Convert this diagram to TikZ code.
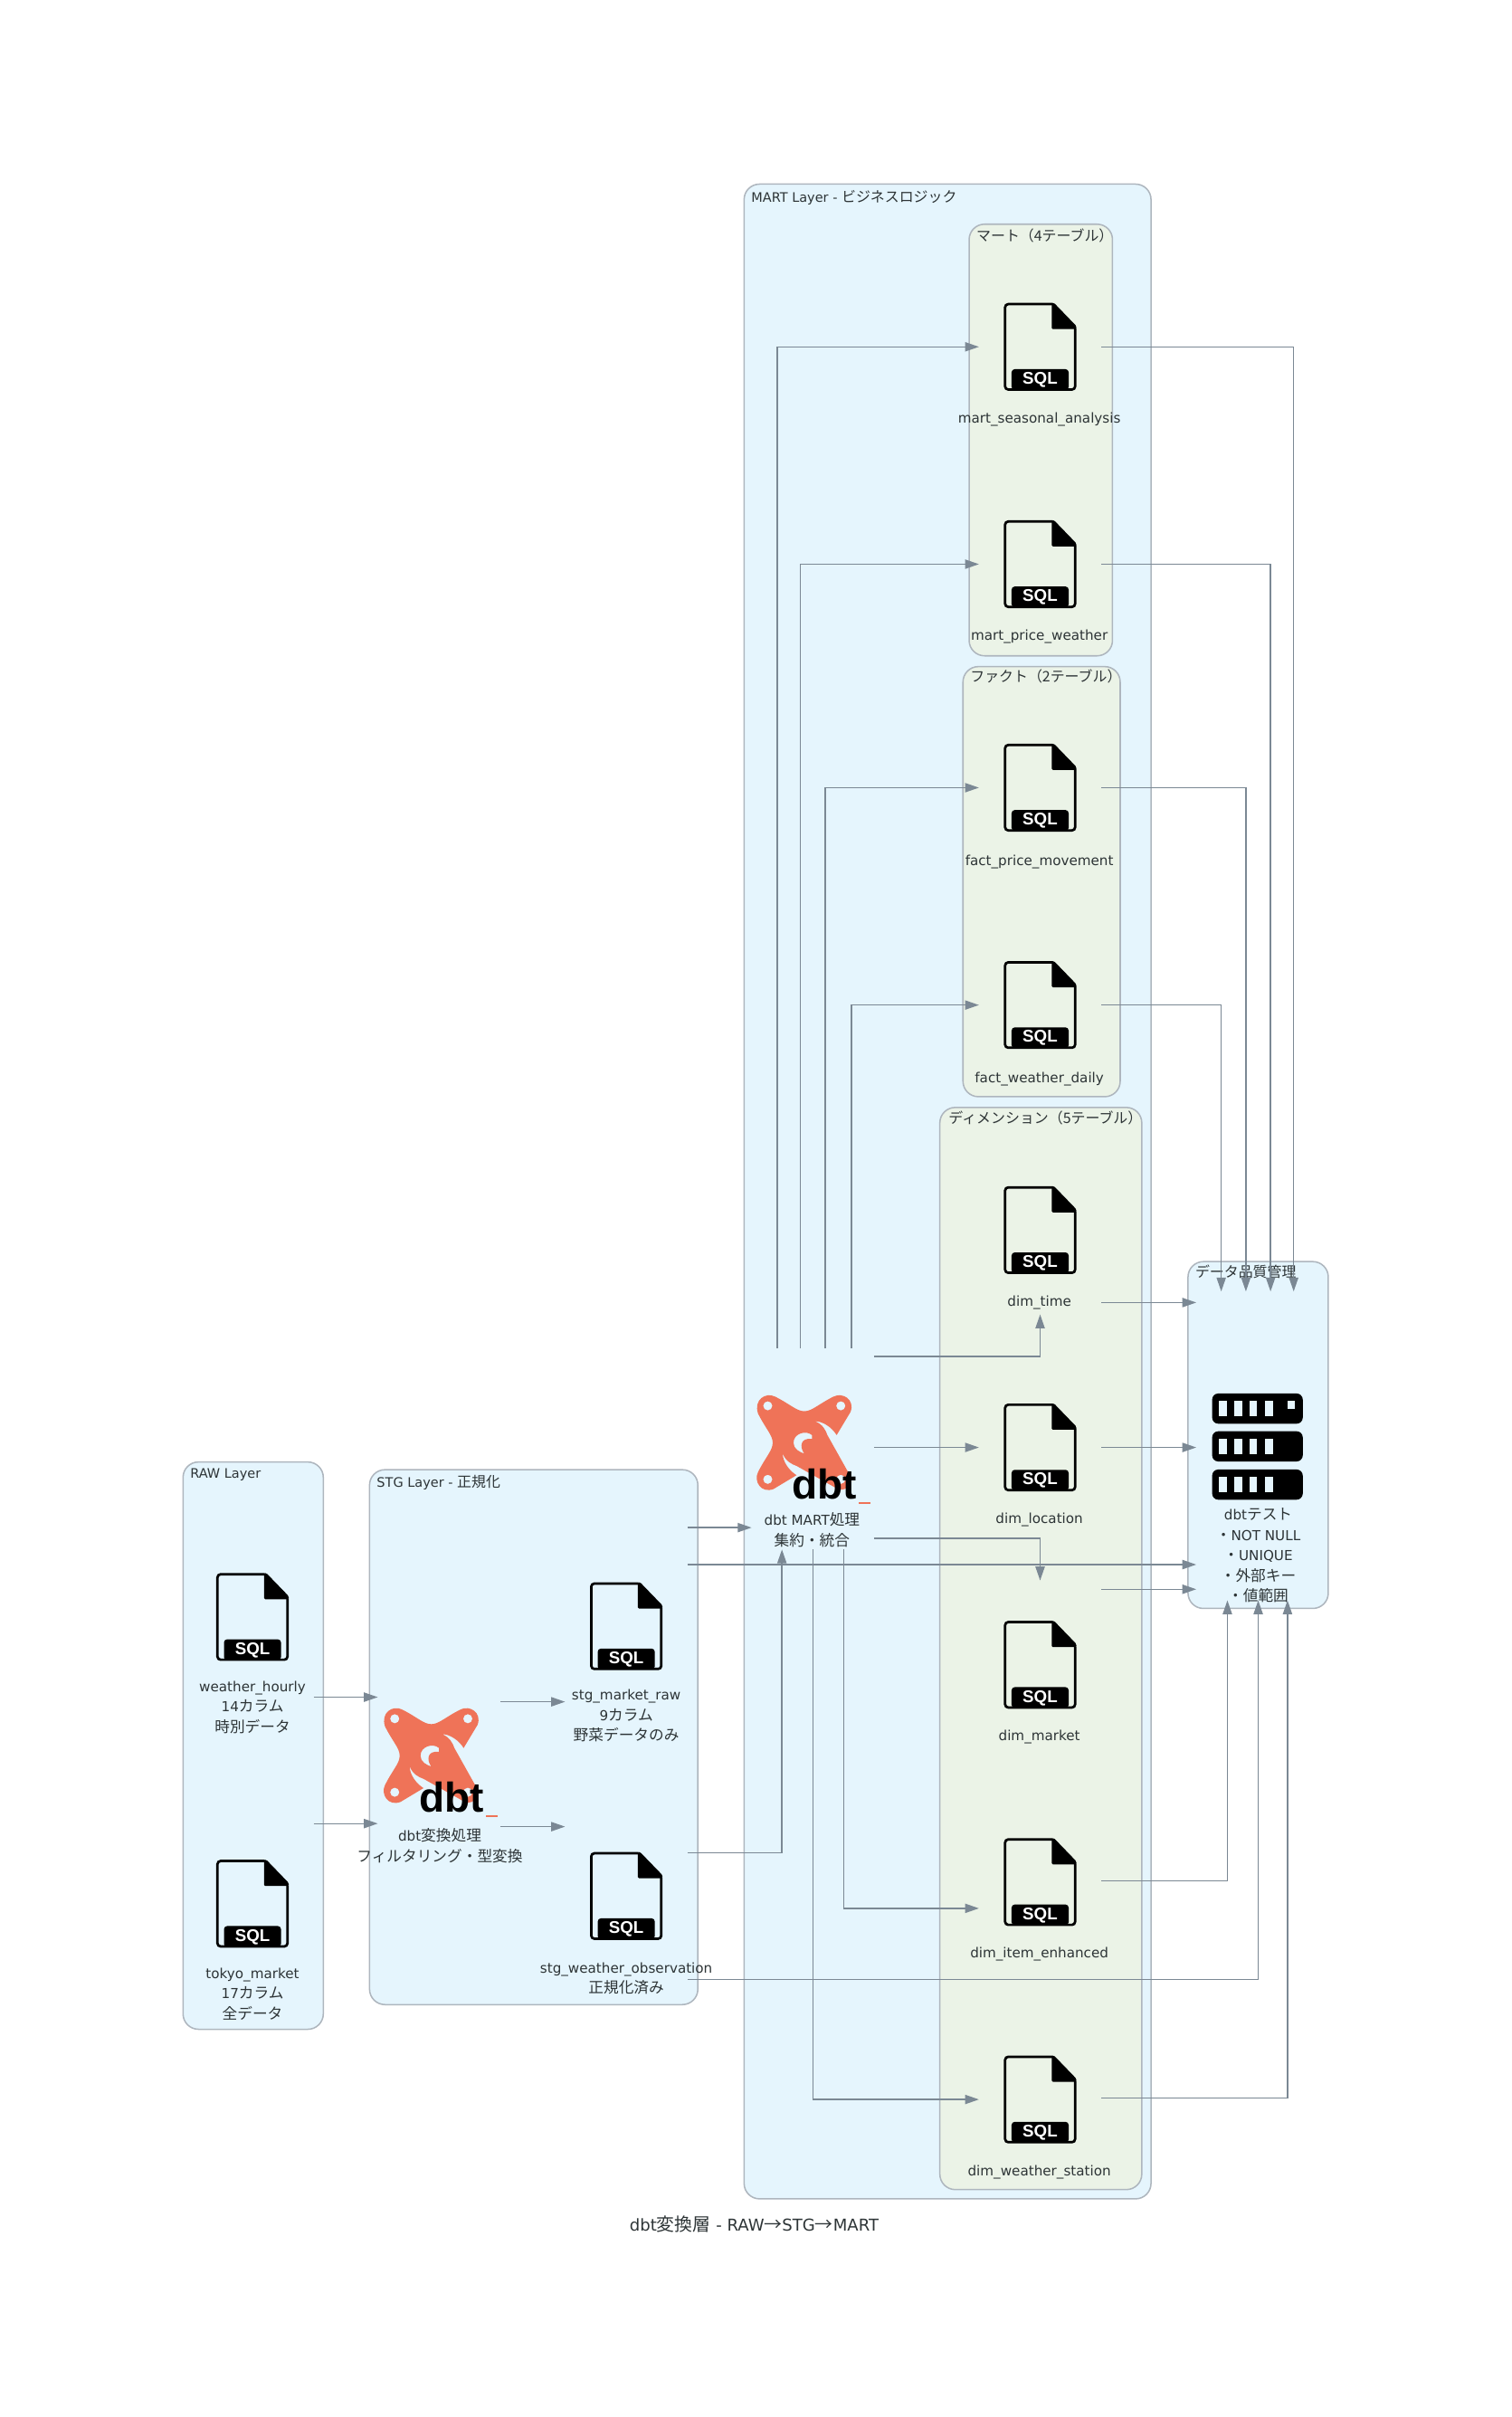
\documentclass[tikz,border=0pt]{standalone}
\usepackage{fontspec}
\setmainfont{DejaVu Sans}
\newfontfamily\cjkfont[Scale=1.1]{Noto Sans CJK JP}
\newfontfamily\logofont{Liberation Sans}
\usetikzlibrary{arrows.meta, positioning}
\definecolor{clusterblue}{HTML}{E5F5FD}
\definecolor{clustergreen}{HTML}{EBF3E7}
\definecolor{clusterpen}{HTML}{AEB6BE}
\definecolor{edgegray}{HTML}{7B8894}
\definecolor{labelgray}{HTML}{2D3436}
\definecolor{dbtorange}{HTML}{EF7358}
\newcommand{\jp}[1]{{\cjkfont #1}}
\tikzset{
  sqlicon/.pic={
    \draw[black, line width=1.6pt, rounded corners=2pt]
      (8,-27.7) -- (-22.7,-27.7) -- (-22.7,27.7) -- (22.7,27.7) -- (22.7,-12);
    \fill[black, rounded corners=0.8pt]
      (7.5,-28.5) -- (9,-28.5) -- (23.5,-13.5) -- (23.5,-11.5) -- (7.5,-11.5) -- cycle;
    \fill[black, rounded corners=2pt]
      (-18.5,28) -- (-18.5,14.5) -- (18.5,14.5) -- (18.5,28) -- cycle;
    \node[sqltext] (-sql) at (0,21.5) {SQL};
  },
  dbticon/.pic={
    \fill[dbtorange, even odd rule]
      (-19,-30) .. controls (-9,-25) and (-5,-20.5) .. (0,-20.5)
      .. controls (5,-20.5) and (9,-25) .. (19,-30)
      .. controls (25,-33) and (33,-28) .. (30,-20) -- (21,-5)
      .. controls (18,-10) and (12,-14) .. (7,-14)
      .. controls (12,-12) and (14,-8) .. (15,-5) -- (29,20)
      .. controls (33,28) and (25,33) .. (20,29) -- (-5,15)
      .. controls (-8,14) and (-12,12) .. (-14,7)
      .. controls (-14,12) and (-10,18) .. (-5,21) -- (-20,30)
      .. controls (-28,33) and (-33,25) .. (-30,19)
      .. controls (-25,9) and (-20.5,5) .. (-20.5,0)
      .. controls (-20.5,-5) and (-25,-9) .. (-30,-19)
      .. controls (-33,-28) and (-25,-33) .. (-19,-30) -- cycle
      (-23.7,-24) circle (3)
      (23.7,-24) circle (3)
      (-23.7,23.7) circle (3)
      (23.7,23.7) circle (3)
      (5,-5) .. controls (1,-8.5) and (-7,-6) .. (-7,0)
      .. controls (-7,4) and (-3,6) .. (0,7)
      .. controls (-3,3) and (-3,-3.5) .. (5,-2.5) -- cycle;
    \node[dbttext] (-word) at (13,27) {dbt};
    \fill[dbtorange] (35.3,38.4) rectangle (43.2,39.6);
  },
  serverrow/.pic={
    \fill[black, rounded corners=4pt] (-29.4,-9.8) rectangle (29.4,9.8);
    \fill[clusterblue] (-25.1,-4.9) rectangle (-20,4.9);
    \fill[clusterblue] (-15,-4.9) rectangle (-9.9,4.9);
    \fill[clusterblue] (-5.3,-4.9) rectangle (-0.2,4.9);
    \fill[clusterblue] (4.8,-4.9) rectangle (9.9,4.9);
  },
}
\begin{document}
\begin{tikzpicture}[
    x=1pt, y=-1pt,
    cluster/.style={draw=clusterpen, fill=clusterblue, rounded corners=10pt,
                    line width=0.9pt, anchor=north west, inner sep=0pt},
    subcluster/.style={cluster, fill=clustergreen},
    title/.style={font=\fontsize{8.5}{12}\selectfont, text=labelgray,
                  anchor=west, inner sep=0pt},
    lbl/.style={font=\fontsize{8.9}{13.2}\selectfont, text=labelgray,
                align=center, inner sep=0pt, yshift=-1pt},
    filebox/.style={minimum width=79pt, minimum height=109pt, inner sep=0pt},
    arrow/.style={-{Triangle[length=9pt, width=6pt]}, edgegray, line width=0.8pt},
    sqltext/.style={font=\logofont\bfseries\fontsize{11}{12}\selectfont,
                    text=white, inner sep=0pt},
    dbttext/.style={font=\logofont\bfseries\fontsize{27}{28}\selectfont,
                    text=black, inner sep=0pt},
  ]
    \useasboundingbox (0.7,0) rectangle (981.6,1568);

    % Layers
    \node[cluster, minimum width=91pt, minimum height=368pt] (rawlayer) at (119,948) {};
    \node[title] (rawtitle) at (124,957) {RAW Layer};
    \node[cluster, minimum width=213pt, minimum height=347pt] (stglayer) at (240,953) {};
    \node[title] (stgtitle) at (245,962) {STG Layer - \jp{正規化}};
    \node[cluster, minimum width=264pt, minimum height=1307pt] (martlayer) at (483,119) {};
    \node[title] (marttitle) at (488,128) {MART Layer - \jp{ビジネスロジック}};
    \node[cluster, minimum width=91pt, minimum height=225pt] (qualitylayer) at (771,818) {};
    \node[title] (qualitytitle) at (776,825) {\jp{データ品質管理}};

    % Groups inside MART
    \node[subcluster, minimum width=93pt, minimum height=280pt] (martgroup) at (629,145) {};
    \node[title] (martgrouptitle) at (634,153) {\jp{マート（4テーブル）}};
    \node[subcluster, minimum width=102pt, minimum height=279pt] (factgroup) at (625,432) {};
    \node[title] (factgrouptitle) at (630,439) {\jp{ファクト（2テーブル）}};
    \node[subcluster, minimum width=131pt, minimum height=702pt] (dimgroup) at (610,718) {};
    \node[title] (dimgrouptitle) at (616,725) {\jp{ディメンション（5テーブル）}};

    % RAW
    \node[filebox] (weatherhourly) at (164.5,1049) {};
    \pic (weathericon) at (weatherhourly) {sqlicon};
    \node[lbl] (weathertext) at (164.5,1106.5) {weather\_hourly\\14\jp{カラム}\\\jp{時別データ}};
    \node[filebox] (tokyomarket) at (164.5,1235) {};
    \pic (tokyoicon) at (tokyomarket) {sqlicon};
    \node[lbl] (tokyotext) at (164.5,1292.5) {tokyo\_market\\17\jp{カラム}\\\jp{全データ}};

    % STG
    \node[filebox, minimum height=130pt] (dbtstg) at (285.5,1140) {};
    \pic (dbtstgicon) at (280.5,1139) {dbticon};
    \node[lbl] (dbtstgtext) at (286,1196.5) {dbt\jp{変換処理}\\\jp{フィルタリング・型変換}};
    \node[filebox] (stgmarket) at (407,1055) {};
    \pic (stgmarketicon) at (stgmarket) {sqlicon};
    \node[lbl] (stgmarkettext) at (407,1112) {stg\_market\_raw\\9\jp{カラム}\\\jp{野菜データのみ}};
    \node[filebox] (stgweather) at (407,1230) {};
    \pic (stgweathericon) at (stgweather) {sqlicon};
    \node[lbl] (stgweathertext) at (407,1282.5) {stg\_weather\_observation\\\jp{正規化済み}};

    % MART process
    \node[filebox, minimum height=130pt] (dbtmart) at (528,940) {};
    \pic (dbtmarticon) at (522.5,936) {dbticon};
    \node[lbl] (dbtmarttext) at (527.5,991.5) {dbt MART\jp{処理}\\\jp{集約・統合}};

    % Mart tables
    \node[filebox] (seasonal) at (675.5,225) {};
    \pic (seasonalicon) at (seasonal) {sqlicon};
    \node[lbl] (seasonaltext) at (675,271) {mart\_seasonal\_analysis};
    \node[filebox] (priceweather) at (675.5,366) {};
    \pic (priceweathericon) at (priceweather) {sqlicon};
    \node[lbl] (priceweathertext) at (675,412) {mart\_price\_weather};

    % Fact tables
    \node[filebox] (pricemove) at (675.5,511) {};
    \pic (pricemoveicon) at (pricemove) {sqlicon};
    \node[lbl] (pricemovetext) at (675,558) {fact\_price\_movement};
    \node[filebox] (weatherdaily) at (675.5,652) {};
    \pic (weatherdailyicon) at (weatherdaily) {sqlicon};
    \node[lbl] (weatherdailytext) at (675,699) {fact\_weather\_daily};

    % Dimension tables
    \node[filebox] (dimtime) at (675.5,798) {};
    \pic (dimtimeicon) at (dimtime) {sqlicon};
    \node[lbl] (dimtimetext) at (675,844) {dim\_time};
    \node[filebox] (dimlocation) at (675.5,939) {};
    \pic (dimlocationicon) at (dimlocation) {sqlicon};
    \node[lbl] (dimlocationtext) at (675,985) {dim\_location};
    \node[filebox] (dimmarket) at (675.5,1080) {};
    \pic (dimmarketicon) at (dimmarket) {sqlicon};
    \node[lbl] (dimmarkettext) at (675,1126) {dim\_market};
    \node[filebox] (dimitem) at (675.5,1221) {};
    \pic (dimitemicon) at (dimitem) {sqlicon};
    \node[lbl] (dimitemtext) at (675,1267) {dim\_item\_enhanced};
    \node[filebox] (dimstation) at (675.5,1362) {};
    \pic (dimstationicon) at (dimstation) {sqlicon};
    \node[lbl] (dimstationtext) at (675,1408) {dim\_weather\_station};

    % Tests
    \node[filebox, minimum height=200pt] (dbttest) at (816.5,938) {};
    \pic (testrow1) at (816.5,913.8) {serverrow};
    \fill[clusterblue] (836,908.9) rectangle (841,913.8);
    \pic (testrow2) at (816.5,938.3) {serverrow};
    \pic (testrow3) at (816.5,963.1) {serverrow};
    \node[lbl] (dbttesttext) at (817,1008) {dbt\jp{テスト}\\\jp{・}NOT NULL\\\jp{・}UNIQUE\\\jp{・外部キー}\\\jp{・値範囲}};

    \node[lbl, font=\fontsize{10.6}{12}\selectfont, yshift=1pt] (caption) at (490,1443)
      {dbt\jp{変換層} - RAW\jp{→}STG\jp{→}MART};

    % RAW to STG
    \draw[arrow] (weatherhourly.east |- 0,1101) -- (dbtstg.west |- 0,1101);
    \draw[arrow] (tokyomarket.east |- 0,1183) -- (dbtstg.west |- 0,1183);
    \draw[arrow] (dbtstg.east |- 0,1104) -- (stgmarket.west |- 0,1104);
    \draw[arrow] (dbtstg.east |- 0,1185) -- (stgweather.west |- 0,1185);

    % STG to MART and tests
    \draw[arrow] (stgmarket.east |- 0,991) -- (dbtmart.west |- 0,991);
    \draw[arrow] (stgmarket.east |- 0,1015) -- (dbttest.west |- 0,1015);
    \draw[arrow] (stgweather.east |- 0,1202) -| ([xshift=-20pt]dbtmart.south);
    \draw[arrow] (stgweather.east |- 0,1284) -| ([xshift=0.5pt]dbttest.south);

    % MART process to tables
    \draw[arrow] ([xshift=-23pt]dbtmart.north) |- (seasonal.west);
    \draw[arrow] ([xshift=-8pt]dbtmart.north) |- (priceweather.west);
    \draw[arrow] ([xshift=8pt]dbtmart.north) |- (pricemove.west);
    \draw[arrow] ([xshift=25pt]dbtmart.north) |- (weatherdaily.west);
    \draw[arrow] (dbtmart.east |- 0,880) -| (dimtime.south);
    \draw[arrow] (dbtmart.east |- dimlocation.west) -- (dimlocation.west);
    \draw[arrow] (dbtmart.east |- 0,998) -| (dimmarket.north);
    \draw[arrow] ([xshift=20pt]dbtmart.south) |- (dimitem.west |- 0,1238);
    \draw[arrow] (dbtmart.south) |- (dimstation.west);

    % Tables to tests
    \draw[arrow] (seasonal.east) -| ([xshift=23.5pt]dbttest.north);
    \draw[arrow] (priceweather.east) -| ([xshift=8.5pt]dbttest.north);
    \draw[arrow] (pricemove.east) -| ([xshift=-7.5pt]dbttest.north);
    \draw[arrow] (weatherdaily.east) -| ([xshift=-23.5pt]dbttest.north);
    \draw[arrow] (dimtime.east |- 0,845) -- (dbttest.west |- 0,845);
    \draw[arrow] (dimlocation.east) -- (dbttest.west |- dimlocation.east);
    \draw[arrow] (dimmarket.east |- 0,1031) -- (dbttest.west |- 0,1031);
    \draw[arrow] (dimitem.east |- 0,1220) -| ([xshift=-19.5pt]dbttest.south);
    \draw[arrow] (dimstation.east |- 0,1361) -| ([xshift=19.5pt]dbttest.south);
\end{tikzpicture}
\end{document}
